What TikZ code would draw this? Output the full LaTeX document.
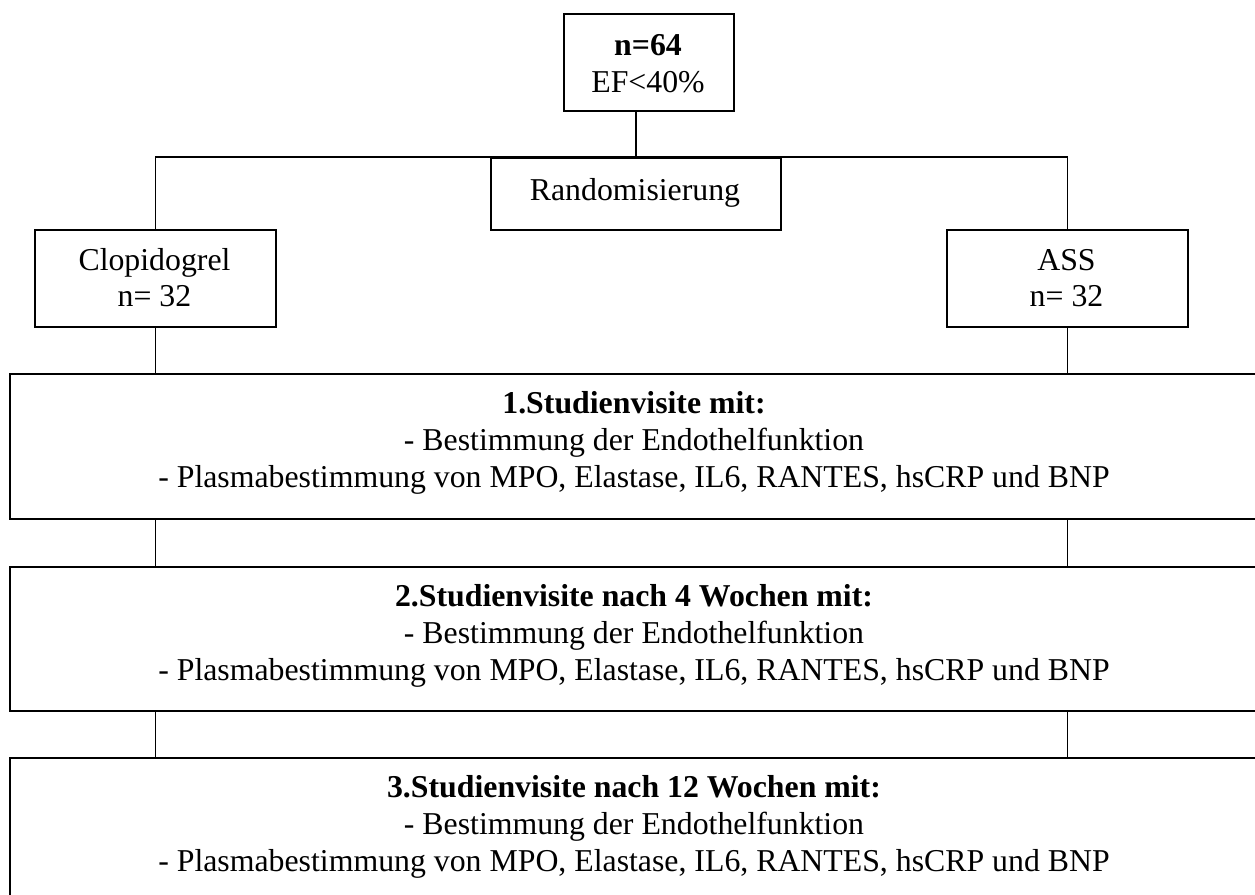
\documentclass[tikz,border=0pt]{standalone}
\usepackage{fontspec}
\setmainfont{Liberation Serif}
\begin{document}
\begin{tikzpicture}[x=1pt,y=-1pt,
  box/.style={draw, line width=1.8pt, rectangle, inner sep=0pt, anchor=north west},
  txt/.style={anchor=base, inner sep=0pt, font=\fontsize{31.8}{37}\selectfont},
  conn/.style={draw, line width=1.8pt}]
\useasboundingbox (0,0) rectangle (1255,894);
\clip (0,0) rectangle (1255,894);
% boxes
\node[box, minimum width=170pt, minimum height=97pt] (top) at (563,13) {};
\node[box, minimum width=290pt, minimum height=72pt] (rand) at (490,157) {};
\node[box, minimum width=241pt, minimum height=97pt] (clop) at (34,229) {};
\node[box, minimum width=241pt, minimum height=97pt] (ass) at (946,229) {};
\node[box, minimum width=1250pt, minimum height=145pt] (v1) at (9.3,373) {};
\node[box, minimum width=1250pt, minimum height=144pt] (v2) at (9.3,566) {};
\node[box, minimum width=1250pt, minimum height=160pt] (v3) at (9.3,757) {};
% texts
\node[txt] (t1) at (648,55) {\bfseries n=64};
\node[txt] (t2) at (648,92) {EF<40\%};
\node[txt] (t3) at (635,200) {Randomisierung};
\node[txt] (t4) at (154.5,270) {Clopidogrel};
\node[txt] (t5) at (154.5,306) {n= 32};
\node[txt] (t6) at (1066.5,270) {ASS};
\node[txt] (t7) at (1066.5,306) {n= 32};
\node[txt] (a1) at (634,413) {\bfseries 1.Studienvisite mit:};
\node[txt] (a2) at (634,450) {- Bestimmung der Endothelfunktion};
\node[txt] (a3) at (634,487) {- Plasmabestimmung von MPO, Elastase, IL6, RANTES, hsCRP und BNP};
\node[txt] (b1) at (634,606) {\bfseries 2.Studienvisite nach 4 Wochen mit:};
\node[txt] (b2) at (634,643) {- Bestimmung der Endothelfunktion};
\node[txt] (b3) at (634,680) {- Plasmabestimmung von MPO, Elastase, IL6, RANTES, hsCRP und BNP};
\node[txt] (c1) at (634,797) {\bfseries 3.Studienvisite nach 12 Wochen mit:};
\node[txt] (c2) at (634,834) {- Bestimmung der Endothelfunktion};
\node[txt] (c3) at (634,871) {- Plasmabestimmung von MPO, Elastase, IL6, RANTES, hsCRP und BNP};
% connectors
\draw[conn] (rand.north |- top.south) -- (rand.north);
\draw[conn] (clop.north) -- (clop.north |- rand.north) -- (ass.north |- rand.north) -- (ass.north);
\draw[conn] (clop.south) -- (clop.south |- v1.north);
\draw[conn] (ass.south) -- (ass.south |- v1.north);
\draw[conn] (clop.south |- v1.south) -- (clop.south |- v2.north);
\draw[conn] (ass.south |- v1.south) -- (ass.south |- v2.north);
\draw[conn] (clop.south |- v2.south) -- (clop.south |- v3.north);
\draw[conn] (ass.south |- v2.south) -- (ass.south |- v3.north);
\end{tikzpicture}
\end{document}
